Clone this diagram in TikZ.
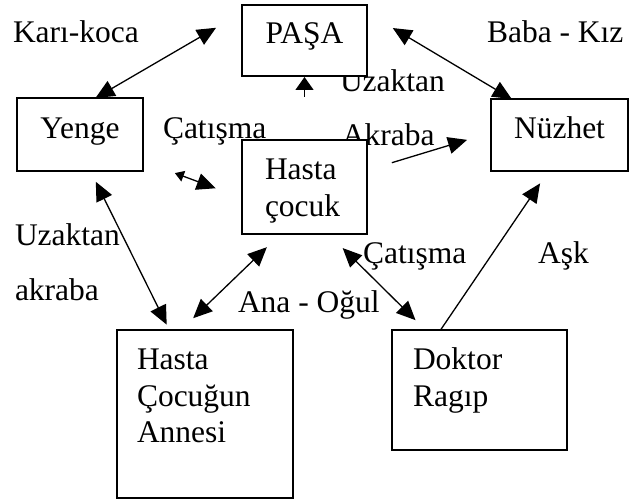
\documentclass[tikz,border=0pt]{standalone}
\usepackage{fontspec}
\setmainfont{Liberation Serif}
\usetikzlibrary{arrows.meta,positioning}

\begin{document}
\begin{tikzpicture}[x=1pt,y=-1pt,>={Triangle[length=19pt,width=17pt]},line width=1.3pt,
			font=\fontsize{31.5}{36.5}\selectfont]
			\tikzstyle{every node}=[inner sep=0pt,outer sep=0pt]
			\tikzstyle{lbl}=[anchor=base west]
			\tikzstyle{box}=[draw,fill=white,rectangle,line width=1.4pt]
			\tikzstyle{one}=[box,text height=21pt,text depth=14pt]
			\tikzstyle{txt}=[align=left]
			\useasboundingbox (0,0) rectangle (631,500);
			
			% relations
			\node[lbl] (KK)  at (13,43)   {Karı-koca};
			\node[lbl] (BK)  at (487,43)  {Baba - Kız};
			\node[lbl] (UZ1) at (340,92)  {Uzaktan};
			\node[lbl] (AK1) at (342,145) {Akraba};
			\node[lbl] (CT1) at (163,138) {Çatışma};
			\node[lbl] (UZ2) at (15,245)  {Uzaktan};
			\node[lbl] (AK2) at (15,300)  {akraba};
			\node[lbl] (AO)  at (238,312) {Ana - Oğul};
			\node[lbl] (CT2) at (363,263) {Çatışma};
			\node[lbl] (AS)  at (538,263) {Aşk};
			
			% persons
			\node[one, minimum width=125pt, minimum height=71pt] (Pasa)   at (304.5,40.5) {PAŞA};
			\node[one, minimum width=126pt, minimum height=73pt] (Yenge)  at (80,134.5)   {Yenge};
			\node[one, minimum width=137pt, minimum height=72pt] (Nuzhet) at (559.5,135)  {Nüzhet};
			\node[box, minimum width=125pt, minimum height=94pt]  (Hasta)  at (304.5,187) {};
			\node[box, minimum width=176pt, minimum height=168pt] (Anne)   at (205,414)   {};
			\node[box, minimum width=175pt, minimum height=120pt] (Doktor) at (479.5,390) {};
			\node[txt, below right=19pt and 23pt of Hasta.north west]  (HastaT)  {Hasta\\çocuk};
			\node[txt, below right=19pt and 20pt of Anne.north west]   (AnneT)   {Hasta\\Çocuğun\\Annesi};
			\node[txt, below right=18pt and 21pt of Doktor.north west] (DoktorT) {Doktor\\Ragıp};
			
			\path[<->]
			(Yenge.67) edge[shorten >=30pt] (Pasa.156)
			(Nuzhet.143) edge[shorten >=30pt] (Pasa.24)
			(Hasta.north) edge[->, >={Triangle[length=13pt,width=18pt]}, shorten <=43pt, shorten >=1pt] (Pasa.south)
			(Hasta.15) edge[->, shorten <=26pt, shorten >=25pt] (Nuzhet.178)
			(Yenge.337) edge[{Triangle[length=9pt,width=11pt]}->, shorten <=34pt, shorten >=28pt] (Hasta.190)
			(Yenge.286) edge[shorten <=12pt, shorten >=6pt] (Anne.113)
			(Hasta.243) edge[shorten <=19pt, shorten >=17pt] (Anne.106)
			(Hasta.297) edge[shorten <=20pt, shorten >=14pt] (Doktor.132)
			(Doktor.123) edge[->, shorten >=15pt] (Nuzhet.253);
			
\end{tikzpicture}
\end{document}
